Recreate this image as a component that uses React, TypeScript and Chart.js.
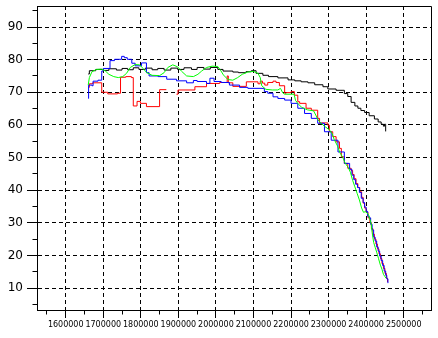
import React, { useEffect, useRef } from 'react';
import { Chart, registerables } from 'chart.js';

Chart.register(...registerables);

// Axis ranges (data units)
const X_MIN = 1523600;
const X_MAX = 2572700;
const Y_MIN = 3.26;
const Y_MAX = 96.44;
const X_TICKS = [1600000, 1700000, 1800000, 1900000, 2000000, 2100000, 2200000, 2300000, 2400000, 2500000];
const Y_TICKS = [10, 20, 30, 40, 50, 60, 70, 80, 90];
const X_MINOR = [1550000, 1650000, 1750000, 1850000, 1950000, 2050000, 2150000, 2250000, 2350000, 2450000, 2550000];
const Y_MINOR = [5, 15, 25, 35, 45, 55, 65, 75, 85, 95];

// Series: [x, y] change points
const blackSeries: [number, number][] = [
  [1660000, 75.6], [1663000, 76.6], [1680000, 77.0], [1700000, 76.7], [1715000, 77.2],
  [1735000, 76.8], [1750000, 77.3], [1765000, 76.9], [1780000, 77.5], [1795000, 77.0],
  [1812000, 77.4], [1830000, 76.9], [1845000, 77.3], [1862000, 76.8], [1880000, 77.4],
  [1898000, 77.0], [1915000, 77.5], [1935000, 77.0], [1950000, 77.6], [1968000, 77.1],
  [1985000, 77.6], [2005000, 77.0], [2019000, 76.5], [2045000, 76.2], [2060000, 76.0],
  [2080000, 76.3], [2094000, 76.6], [2107000, 75.8], [2125000, 75.2], [2140000, 74.8],
  [2165000, 74.4], [2192000, 73.8], [2210000, 73.5], [2227000, 73.2], [2245000, 72.9],
  [2263000, 72.3], [2285000, 71.7], [2298000, 71.0], [2320000, 70.6], [2342000, 69.6],
  [2351000, 68.7], [2360000, 66.9], [2370000, 65.8], [2378000, 65.1], [2386000, 64.4],
  [2396000, 63.8], [2408000, 62.8], [2422000, 61.8], [2432000, 60.9], [2440000, 60.2],
  [2446000, 59.6], [2449000, 60.2], [2452000, 58.0],
];

const redSeries: [number, number | null][] = [
  [1660000, 71.5], [1663000, 72.6], [1672000, 72.9], [1696000, 70.0], [1712000, 69.5],
  [1738000, 69.7], [1746000, 74.6], [1760000, 74.8], [1775000, 74.5], [1780000, 65.8],
  [1790000, 67.2], [1799000, 66.6], [1815000, 65.6], [1850000, 70.8], [1868000, 70.8],
  [1880000, null],
  [1895000, 69.4], [1899000, 70.7], [1944000, 71.7], [1975000, 72.7], [2010000, 73.0],
  [2030000, 75.0], [2033000, 72.9], [2045000, 71.8], [2081000, 73.2], [2112000, 72.6],
  [2118000, 73.4], [2124000, 72.8], [2130000, 72.2], [2138000, 73.0], [2152000, 73.4],
  [2160000, 73.0], [2169000, 72.0], [2183000, 69.7], [2187000, 69.9], [2200000, 70.2],
  [2209000, 69.1], [2218000, 67.1], [2223000, 66.6], [2240000, 65.1], [2254000, 64.5],
  [2271000, 62.0], [2276000, 60.6], [2298000, 59.9], [2302000, 57.9], [2311000, 56.4],
  [2320000, 54.8], [2329000, 52.8], [2334000, 50.2], [2342000, 48.2], [2351000, 46.7],
  [2360000, 46.0], [2364000, 44.8], [2368000, 43.5], [2373000, 42.0], [2378000, 40.8],
  [2383000, 39.5], [2388000, 37.8], [2392000, 36.0], [2396000, 34.5], [2400000, 33.2],
  [2405000, 31.5], [2410000, 30.0], [2414000, 28.2], [2418000, 26.5], [2422000, 25.0],
  [2426000, 23.5], [2430000, 22.0], [2434000, 20.5], [2438000, 19.0], [2442000, 17.5],
  [2446000, 16.0], [2450000, 14.5], [2454000, 13.0], [2457000, 11.8],
];

const blueSeries: [number, number][] = [
  [1660000, 68.1], [1661000, 72.2], [1670000, 72.0], [1673000, 73.4], [1686000, 73.7],
  [1696000, 76.5], [1700000, 77.3], [1718000, 79.7], [1730000, 80.1], [1749000, 81.0],
  [1756000, 80.6], [1764000, 80.1], [1776000, 78.9], [1785000, 78.1], [1802000, 79.0],
  [1815000, 76.0], [1822000, 75.0], [1846000, 74.8], [1869000, 74.0], [1895000, 73.5],
  [1922000, 72.9], [1940000, 73.6], [1950000, 73.3], [1975000, 72.7], [1984000, 74.3],
  [1995000, 73.3], [2014000, 73.0], [2036000, 72.2], [2063000, 71.5], [2085000, 71.2],
  [2129000, 70.2], [2138000, 69.7], [2152000, 68.6], [2165000, 68.1], [2183000, 67.6],
  [2200000, 66.6], [2218000, 65.1], [2236000, 63.5], [2254000, 62.0], [2271000, 60.5],
  [2289000, 57.9], [2307000, 55.3], [2325000, 51.7], [2342000, 48.2], [2356000, 46.4],
  [2362000, 44.6], [2367000, 43.2], [2372000, 41.8], [2377000, 40.8], [2382000, 39.3],
  [2387000, 37.5], [2392000, 36.2], [2396000, 34.8], [2400000, 33.5], [2404000, 32.0],
  [2408000, 31.5], [2412000, 29.5], [2416000, 27.8], [2420000, 25.6], [2424000, 24.4],
  [2428000, 22.6], [2432000, 21.3], [2436000, 19.8], [2440000, 18.4], [2444000, 16.9],
  [2448000, 15.2], [2452000, 13.9], [2455000, 12.8], [2458000, 11.5],
];

const greenSeries: [number, number][] = [
  [1660000, 72.2], [1663000, 74.5], [1670000, 76.3], [1682000, 77.0], [1695000, 77.1],
  [1705000, 76.6], [1715000, 75.5], [1728000, 74.8], [1740000, 74.5], [1752000, 74.8],
  [1762000, 75.8], [1772000, 77.6], [1785000, 78.5], [1797000, 78.4], [1806000, 77.3],
  [1816000, 76.0], [1830000, 75.2], [1850000, 75.1], [1862000, 76.0], [1872000, 77.6],
  [1885000, 78.4], [1898000, 77.8], [1908000, 76.5], [1922000, 75.0], [1940000, 74.8],
  [1952000, 75.5], [1962000, 76.5], [1975000, 77.6], [1990000, 78.0], [2005000, 77.9],
  [2012000, 76.8], [2020000, 75.3], [2032000, 73.9], [2045000, 73.7], [2058000, 74.5],
  [2070000, 75.5], [2085000, 76.2], [2100000, 76.4], [2112000, 75.8], [2118000, 74.5],
  [2122000, 72.0], [2133000, 70.9], [2150000, 70.7], [2165000, 70.7], [2172000, 71.2],
  [2178000, 69.8], [2183000, 69.4], [2208000, 69.4], [2212000, 67.5], [2218000, 66.6],
  [2228000, 65.4], [2244000, 64.6], [2260000, 64.3], [2266000, 63.0], [2272000, 61.5],
  [2280000, 60.5], [2290000, 59.5], [2302000, 58.5], [2310000, 57.2], [2315000, 55.5],
  [2324000, 53.5], [2330000, 51.5], [2338000, 50.0], [2344000, 48.3], [2352000, 47.0],
  [2358000, 45.5], [2364000, 43.0], [2370000, 41.0], [2376000, 39.0], [2382000, 37.0],
  [2388000, 34.5], [2393000, 33.2], [2398000, 33.4], [2406000, 32.6], [2410000, 31.0],
  [2413000, 30.0], [2416000, 27.0], [2420000, 24.0], [2424000, 22.5], [2428000, 21.0],
  [2433000, 19.0], [2438000, 17.0], [2442000, 15.8], [2446000, 14.2], [2450000, 13.5],
  [2453000, 13.0],
];

const toPoints = (s: [number, number | null][]) => s.map(([x, y]) => ({ x, y }));

const align = (v: number) => Math.round(v - 0.5) + 0.5;

const framePlugin = {
  id: 'frameAndMinorTicks',
  afterDraw(chart: any) {
    const { ctx, chartArea: a, scales } = chart;
    ctx.save();
    ctx.setLineDash([]);
    ctx.strokeStyle = '#000';
    ctx.lineWidth = 1;
    const l = align(a.left), r = align(a.right), t = align(a.top), b = align(a.bottom);
    ctx.beginPath();
    ctx.moveTo(l, t); ctx.lineTo(r, t); ctx.lineTo(r, b); ctx.lineTo(l, b); ctx.closePath();
    ctx.stroke();
    ctx.beginPath();
    for (const v of Y_MINOR) {
      const p = align(scales.y.getPixelForValue(v));
      ctx.moveTo(l - 5, p); ctx.lineTo(l, p);
    }
    for (const v of X_MINOR) {
      const p = align(scales.x.getPixelForValue(v));
      ctx.moveTo(p, b); ctx.lineTo(p, b + 4);
    }
    ctx.stroke();
    ctx.restore();
  },
};

export default function App() {
  const ref = useRef<HTMLCanvasElement | null>(null);
  useEffect(() => {
    document.body.style.margin = '0';
    const canvas = ref.current!;
    const line = (label: string, s: [number, number | null][], color: string, stepped: any) => ({
      label,
      data: toPoints(s),
      borderColor: color,
      backgroundColor: color,
      borderWidth: 1,
      pointRadius: 0,
      fill: false,
      stepped,
      spanGaps: false,
      tension: 0,
    });
    const chart = new Chart(canvas, {
      type: 'line',
      data: {
        datasets: [
          line('green', greenSeries, '#00ff00', false),
          line('blue', blueSeries, '#0000ff', 'before'),
          line('red', redSeries, '#ff0000', 'before'),
          line('black', blackSeries, '#000000', 'before'),
        ],
      },
      options: {
        animation: false,
        responsive: false,
        devicePixelRatio: 1,
        layout: { padding: { top: 6, right: 7, left: 0, bottom: 0 } },
        plugins: { legend: { display: false }, tooltip: { enabled: false }, title: { display: false } },
        scales: {
          x: {
            type: 'linear',
            min: X_MIN,
            max: X_MAX,
            afterBuildTicks: (s: any) => { s.ticks = X_TICKS.map((value) => ({ value })); },
            afterFit: (s: any) => {
              s.height = 28;
              s.paddingLeft = 0; s.paddingRight = 0; s.paddingTop = 0; s.paddingBottom = 0;
            },
            ticks: {
              autoSkip: false,
              maxRotation: 0,
              minRotation: 0,
              padding: 2,
              color: '#000',
              font: { family: 'DejaVu Sans', size: 8 },
              callback: (v: any) => String(v),
            },
            grid: { color: '#000', lineWidth: 1, tickLength: 8, tickColor: '#000', tickBorderDash: [] },
            border: { display: true, color: '#000', width: 1, dash: [4, 3] },
          },
          y: {
            type: 'linear',
            min: Y_MIN,
            max: Y_MAX,
            afterBuildTicks: (s: any) => { s.ticks = Y_TICKS.map((value) => ({ value })); },
            afterFit: (s: any) => {
              s.width = 37;
              s.paddingLeft = 0; s.paddingRight = 0; s.paddingTop = 0; s.paddingBottom = 0;
            },
            ticks: {
              autoSkip: false,
              padding: 4,
              color: '#000',
              font: { family: 'DejaVu Sans', size: 12 },
              callback: (v: any) => String(v),
            },
            grid: { color: '#000', lineWidth: 1, tickLength: 10, tickColor: '#000', tickBorderDash: [] },
            border: { display: true, color: '#000', width: 1, dash: [4, 3] },
          },
        },
      },
      plugins: [framePlugin],
    });
    return () => chart.destroy();
  }, []);
  return (
    <div style={{ position: 'absolute', left: 0, top: 0, width: 438, height: 338, background: '#fff' }}>
      <canvas ref={ref} width={438} height={338} style={{ width: 438, height: 338 }} />
    </div>
  );
}
